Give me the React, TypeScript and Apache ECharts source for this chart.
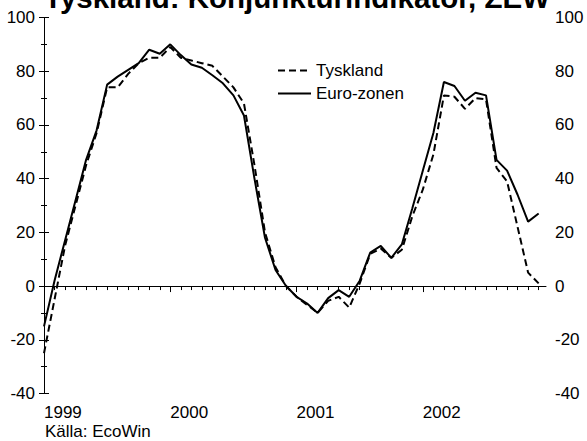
import React, { useEffect, useRef } from "react";
import * as echarts from "echarts";

const titleText = "Tyskland: Konjunkturindikator, ZEW";
const sourceText = "Källa: EcoWin";
const seriesNames = ["Tyskland", "Euro-zonen"];
const startYear = 1999;
// month index 0 = Jan 1999
const monthTicks = [
  0, 1, 2, 3, 4, 5, 6, 7, 8, 9, 10, 11, 12, 13, 14, 15, 16, 17, 18, 19, 20, 21, 22, 23,
  24, 25, 26, 27, 28, 29, 30, 31, 32, 33, 34, 35, 36, 37, 38, 39, 40, 41, 42, 43, 44, 45, 46, 47,
];
const yearTicks = [0, 12, 24, 36];
const tyskland = [
  -25, -5, 15, 30, 45, 57, 74, 74, 79, 83, 85, 85,
  89, 85, 84, 83, 82, 78, 74, 68, 45, 20, 7, 0,
  -4, -7, -10, -5.5, -4, -8, 1, 12, 14, 10.5, 13.5, 26,
  36, 49, 71, 70.5, 66, 70, 69.5, 44, 39, 22, 5, 1,
];
const euro = [
  -15, 2, 17, 32, 47, 58, 75, 78, 80.5, 83, 88, 86.5,
  90, 86, 82.5, 81.3, 78.5, 75.5, 71, 63.5, 40, 18, 6, 0,
  -4, -6.5, -10, -4.5, -1.5, -4, 2, 12.5, 15, 10.5, 15.5, 29,
  43, 57, 76, 74.5, 69, 72, 71, 47, 43, 34, 24, 27,
];

const FONT = "Liberation Sans, Arial, sans-serif";
const FS = 17;

export default function App() {
  const ref = useRef<HTMLDivElement>(null);
  useEffect(() => {
    if (!ref.current) return;
    const chart = echarts.init(ref.current, null, { renderer: "svg" });
    const yAxisBase = {
      type: "value",
      min: -40,
      max: 100,
      interval: 20,
      splitLine: { show: false },
      axisLine: { show: true, lineStyle: { color: "#000", width: 1 } },
      axisTick: { show: true, length: 5, lineStyle: { color: "#000", width: 1 } },
      minorTick: { show: true, splitNumber: 2, length: 3, lineStyle: { color: "#000", width: 1 } },
      axisLabel: { color: "#000", fontSize: FS, fontFamily: FONT, margin: 9 },
    };
    chart.setOption({
      animation: false,
      backgroundColor: "#fff",
      grid: { left: 44, right: 41, top: 17.5, bottom: 47.5, containLabel: false },
      xAxis: [
        {
          type: "value",
          min: 0,
          max: 47.7,
          splitLine: { show: false },
          axisLine: { show: true, lineStyle: { color: "#000", width: 1 } },
          axisTick: { show: true, length: 4, customValues: monthTicks, lineStyle: { color: "#000" } },
          axisLabel: {
            color: "#000",
            fontSize: FS,
            fontFamily: FONT,
            margin: 10,
            align: "left",
            customValues: yearTicks,
            formatter: (v: number) => String(startYear + Math.round(v / 12)),
          },
        },
        {
          type: "value",
          min: 0,
          max: 47.7,
          position: "bottom",
          splitLine: { show: false },
          axisLine: { show: false },
          axisTick: { show: true, length: 6, customValues: yearTicks, lineStyle: { color: "#000" } },
          axisLabel: { show: false },
        },
      ],
      yAxis: [
        { ...yAxisBase, position: "left" },
        { ...yAxisBase, position: "right" },
      ],
      legend: {
        orient: "vertical",
        left: 272,
        top: 57,
        itemWidth: 33,
        itemHeight: 14,
        itemGap: 6,
        itemStyle: { opacity: 0 },
        textStyle: { color: "#000", fontSize: FS, fontFamily: FONT },
        data: seriesNames,
      },
      series: [
        {
          name: seriesNames[0],
          type: "line",
          symbol: "none",
          data: tyskland.map((v, i) => [monthTicks[i], v]),
          lineStyle: { color: "#000", width: 2, type: [7, 4] },
          itemStyle: { color: "#000" },
        },
        {
          name: seriesNames[1],
          type: "line",
          symbol: "none",
          data: euro.map((v, i) => [monthTicks[i], v]),
          lineStyle: { color: "#000", width: 2, type: "solid" },
          itemStyle: { color: "#000" },
        },
      ],
      graphic: [
        {
          type: "text",
          x: 297,
          y: -3,
          style: {
            text: titleText,
            font: `bold 29.5px ${FONT}`,
            fill: "#000",
            align: "center",
            verticalAlign: "middle",
            textAlign: "center",
            textVerticalAlign: "middle",
          },
        },
        {
          type: "text",
          x: 45,
          y: 431,
          style: {
            text: sourceText,
            font: `${FS}px ${FONT}`,
            fill: "#000",
            align: "left",
            verticalAlign: "middle",
            textAlign: "left",
            textVerticalAlign: "middle",
          },
        },
      ],
    });
    return () => chart.dispose();
  }, []);
  return (
    <div
      ref={ref}
      style={{ position: "fixed", left: 0, top: 0, width: 587, height: 441, background: "#fff" }}
    />
  );
}
